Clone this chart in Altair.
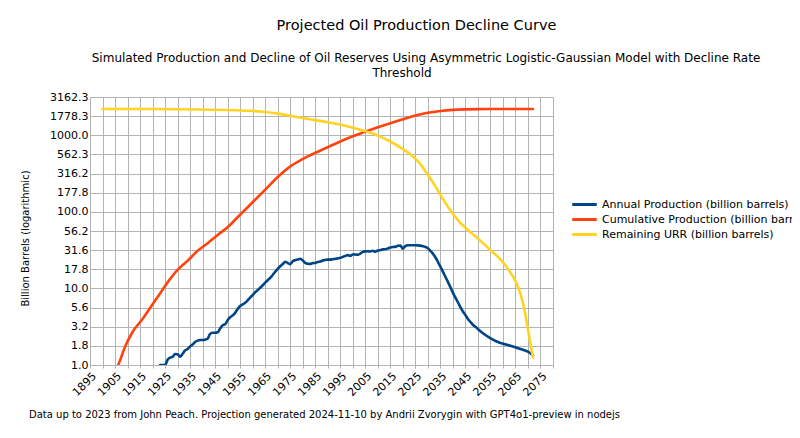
import altair as alt
import pandas as pd

# ---------------- data ----------------
series_names = [
    "Annual Production (billion barrels)",
    "Cumulative Production (billion barrels)",
    "Remaining URR (billion barrels)",
]
series_colors = ["#004586", "#ff420e", "#ffd320"]

years_annual = [
    1923, 1925, 1926, 1927, 1928, 1929, 1930, 1931, 1932, 1933, 1934, 1935, 1936, 1937,
    1938, 1939, 1940, 1941, 1942, 1943, 1944, 1945, 1946, 1947, 1948, 1949, 1950, 1951,
    1952, 1953, 1954, 1955, 1956, 1957, 1958, 1959, 1960, 1961, 1962, 1963, 1964, 1965,
    1966, 1967, 1968, 1969, 1970, 1971, 1972, 1973, 1974, 1975, 1976, 1977, 1978, 1979,
    1980, 1981, 1982, 1983, 1984, 1985, 1986, 1987, 1988, 1989, 1990, 1991, 1992, 1993,
    1994, 1995, 1996, 1997, 1998, 1999, 2000, 2001, 2002, 2003, 2004, 2005, 2006, 2007,
    2008, 2009, 2010, 2011, 2012, 2013, 2014, 2015, 2016, 2017, 2018, 2019, 2020, 2021,
    2022, 2023, 2024, 2025, 2026, 2027, 2028, 2029, 2030, 2031, 2032, 2033, 2034, 2035,
    2036, 2037, 2038, 2039, 2040, 2041, 2042, 2043, 2044, 2045, 2046, 2047, 2048, 2049,
    2050, 2052, 2054, 2056, 2058, 2060, 2062, 2064, 2066, 2068, 2070, 2072,
]
annual = [
    1.0, 1.0, 1.17, 1.25, 1.28, 1.39, 1.38, 1.28, 1.4, 1.55, 1.62, 1.75, 1.85, 2.0,
    2.08, 2.12, 2.12, 2.14, 2.2, 2.55, 2.64, 2.64, 2.68, 3.0, 3.3, 3.4, 3.85, 4.2,
    4.45, 4.8, 5.4, 5.9, 6.2, 6.5, 7.0, 7.6, 8.2, 8.9, 9.5, 10.2, 11.0, 11.9,
    12.8, 13.7, 15.0, 16.5, 18.0, 19.5, 20.8, 22.3, 21.5, 20.7, 22.6, 23.4, 23.8, 24.4,
    23.2, 21.6, 21.0, 20.9, 21.4, 21.5, 22.2, 22.4, 23.2, 23.5, 23.8, 23.8, 24.1, 24.3,
    24.7, 25.1, 25.8, 26.6, 27.2, 26.6, 27.8, 27.7, 27.5, 28.5, 30.0, 30.5, 30.6, 30.4,
    31.0, 30.2, 31.3, 31.6, 32.4, 32.5, 33.2, 34.3, 34.8, 34.9, 36.0, 36.2, 33.0, 35.8,
    36.6, 36.6, 36.6, 36.6, 36.5, 36.2, 35.6, 34.8, 33.5, 31.0, 28.5, 25.5, 22.3, 19.3,
    16.6, 14.2, 12.2, 10.4, 8.8, 7.6, 6.6, 5.7, 5.0, 4.5, 4.0, 3.65, 3.35, 3.15,
    2.95, 2.6, 2.35, 2.15, 2.0, 1.9, 1.82, 1.74, 1.66, 1.58, 1.49, 1.33,
]

years_cumulative = [
    1900, 1904, 1906, 1907, 1909, 1912, 1916, 1920, 1923, 1926, 1930, 1934, 1938, 1942,
    1946, 1950, 1954, 1958, 1962, 1966, 1970, 1974, 1978, 1982, 1986, 1990, 1995, 2000,
    2005, 2010, 2015, 2020, 2025, 2030, 2035, 2040, 2045, 2050, 2060, 2072,
]
cumulative = [
    0.3, 0.6, 0.95, 1.15, 1.73, 2.7, 4.0, 6.2, 8.6, 12.0, 17.5, 23.0, 31.0, 39.0,
    50.0, 63.0, 85.0, 115.0, 155.0, 210.0, 285.0, 370.0, 450.0, 530.0, 610.0, 700.0, 830.0, 970.0,
    1110.0, 1270.0, 1440.0, 1620.0, 1810.0, 1970.0, 2080.0, 2150.0, 2180.0, 2195.0, 2203.0, 2205.0,
]

years_remaining = [
    1900, 1910, 1920, 1930, 1940, 1950, 1957, 1963, 1970, 1977, 1983, 1990, 1997, 2003,
    2007, 2010, 2015, 2020, 2024, 2027, 2030, 2033, 2036, 2039, 2042, 2046, 2050, 2053,
    2056, 2059, 2062, 2065, 2067, 2068, 2069, 2070, 2071, 2072,
]
remaining = [
    2205.0, 2204.0, 2200.0, 2192.0, 2175.0, 2140.0, 2095.0, 2040.0, 1920.0, 1750.0, 1620.0, 1479.0, 1330.0, 1180.0,
    1080.0, 990.0, 830.0, 660.0, 530.0, 420.0, 305.0, 215.0, 148.0, 105.0, 78.0, 58.0, 45.0, 36.5,
    29.5, 24.0, 18.0, 12.5, 8.5, 6.4, 4.5, 2.9, 1.9, 1.25,
]

y_tick_values = [10 ** (k / 4) for k in range(15)]
x_tick_values = list(range(1895, 2081, 5))

title_text = "Projected Oil Production Decline Curve"
subtitle_line1 = ("Simulated Production and Decline of Oil Reserves Using Asymmetric "
                  "Logistic-Gaussian Model with Decline Rate")
subtitle_line2 = "Threshold"
y_title = "Billion Barrels (logarithmic)"
footer_text = ("Data up to 2023 from John Peach. Projection generated 2024-11-10 by Andrii Zvorygin "
               "with GPT4o1-preview in nodejs")

# ---------------- build table ----------------
frames = []
for name, yrs, vals in zip(series_names,
                           [years_annual, years_cumulative, years_remaining],
                           [annual, cumulative, remaining]):
    frames.append(pd.DataFrame({"year": yrs, "value": vals, "series": name}))
df = pd.concat(frames, ignore_index=True)

FONT = "DejaVu Sans"
GRID = "#b3b3b3"

lines = alt.Chart(df).mark_line(
    strokeWidth=2.6, clip=True, interpolate="monotone", strokeCap="round", strokeJoin="round"
).encode(
    x=alt.X(
        "year:Q",
        scale=alt.Scale(domain=[1895, 2080], nice=False, zero=False),
        axis=alt.Axis(
            values=x_tick_values,
            labelExpr="(datum.value - 1895) % 10 == 0 ? format(datum.value, 'd') : ''",
            labelAngle=-45,
            labelOverlap=False,
            labelFlush=False,
            labelBound=False,
            tickSize=3,
            labelPadding=2,
            title=None,
        ),
    ),
    y=alt.Y(
        "value:Q",
        scale=alt.Scale(type="log", domain=[1, 3162.2776601683795], nice=False),
        axis=alt.Axis(
            values=y_tick_values,
            format=".1f",
            tickSize=0,
            labelPadding=2,
            labelOverlap=False,
            labelFlush=False,
            title=y_title,
            titleFontSize=10,
            titleFontWeight="normal",
            titleX=-60,
            titleY=141,
            titleBaseline="bottom",
            titleAngle=270,
        ),
    ),
    color=alt.Color(
        "series:N",
        scale=alt.Scale(domain=series_names, range=series_colors),
        legend=alt.Legend(
            title=None,
            orient="none",
            legendX=488,
            legendY=101,
            symbolType="M-2.45,0H2.45",
            symbolSize=100,
            symbolStrokeWidth=3,
            labelFontSize=11,
            labelFont=FONT,
            labelColor="black",
            labelOffset=11,
            rowPadding=2,
            padding=0,
            labelLimit=400,
        ),
    ),
)


def text_layer(txt, x, y, size, align="center"):
    return alt.Chart(pd.DataFrame({"t": [txt]})).mark_text(
        align=align, baseline="alphabetic", fontSize=size, font=FONT, color="black"
    ).encode(x=alt.value(x), y=alt.value(y), text="t:N")


title_mark = text_layer(title_text, 326.5, -67.5, 14.5)
sub1_mark = text_layer(subtitle_line1, 336, -35.5, 12)
sub2_mark = text_layer(subtitle_line2, 312, -20.5, 12)
footer_mark = text_layer(footer_text, -61, 321, 10, align="left")

chart = alt.layer(lines, title_mark, sub1_mark, sub2_mark, footer_mark).properties(
    width=463,
    height=268,
    padding={"left": 82, "top": 89, "right": 239, "bottom": 65},
    autosize=alt.AutoSizeParams(type="none"),
).configure_view(stroke=None).configure_axis(
    gridColor=GRID,
    domainColor=GRID,
    tickColor=GRID,
    gridOpacity=1,
    labelFont=FONT,
    labelFontSize=11,
    labelColor="black",
    titleFont=FONT,
    titleColor="black",
)

chart.save("out.html", embed_options={"renderer": "svg", "actions": False})
